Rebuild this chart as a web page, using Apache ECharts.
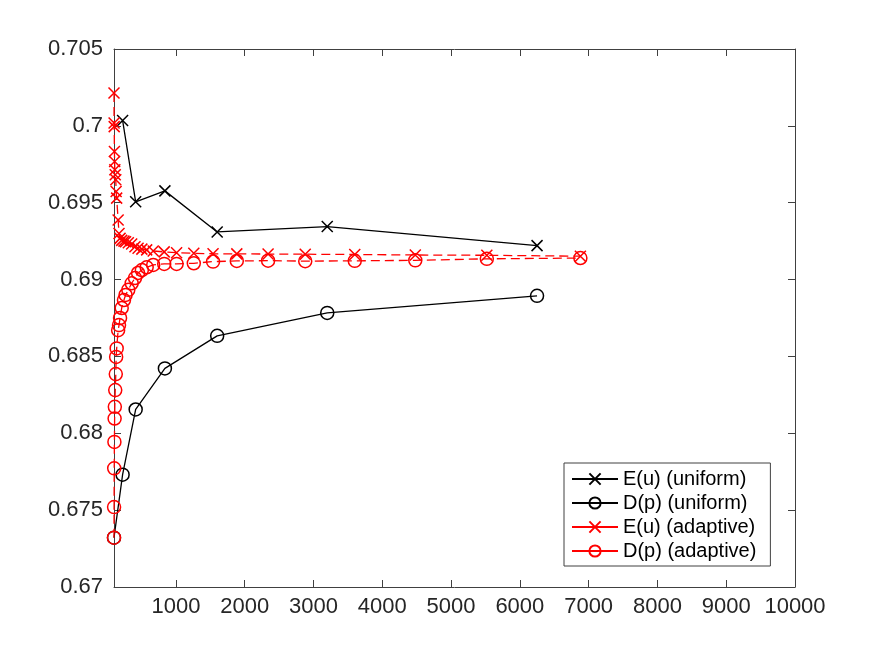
<!DOCTYPE html>
<html>
<head>
<meta charset="utf-8">
<title>E(u) / D(p)</title>
<script src="https://cdn.jsdelivr.net/npm/echarts@6.0.0/dist/echarts.min.js"></script>
<style>
  html, body { margin: 0; padding: 0; background: #fff; }
  #wrap { width: 878px; height: 659px; }
</style>
</head>
<body>
<div id="wrap"></div>
<script>
// uniform refinement
var uniformX = [100, 225, 415, 840, 1600, 3200, 6250];
var uniformEu = [null, 0.70035, 0.69506, 0.69577, 0.69310, 0.69345, 0.69221];
var uniformDp = [0.67321, 0.67731, 0.68155, 0.68422, 0.68634, 0.68783, 0.68894];

// adaptive refinement
var adaptiveX = [100, 101, 103, 106, 109, 112, 118, 126, 131, 139, 160, 173, 188, 212,
  245, 268, 308, 357, 405, 450, 505, 575, 670, 830, 1010, 1260, 1540, 1885,
  2340, 2880, 3600, 4480, 5520, 6880];
var adaptiveEu = [0.70214, 0.70018, 0.69995, 0.69833, 0.69768, 0.69714, 0.69682, 0.69649,
  0.69573, 0.69530, 0.69388, 0.69300, 0.69268, 0.69255, 0.69250, 0.69246, 0.69240,
  0.69232, 0.69214, 0.69204, 0.69198, 0.69193, 0.69186, 0.69180, 0.69175, 0.69171,
  0.69168, 0.69167, 0.69166, 0.69165, 0.69163, 0.69160, 0.69158, 0.69152];
var adaptiveDp = [0.67321, 0.67520, 0.67772, 0.67944, 0.68096, 0.68172, 0.68281, 0.68385,
  0.68497, 0.68552, 0.68671, 0.68704, 0.68750, 0.68815, 0.68867, 0.68900, 0.68933,
  0.68976, 0.69010, 0.69043, 0.69062, 0.69080, 0.69095, 0.69102, 0.69102, 0.69106,
  0.69117, 0.69121, 0.69123, 0.69120, 0.69122, 0.69125, 0.69135, 0.69140];

var xTicks = [1000, 2000, 3000, 4000, 5000, 6000, 7000, 8000, 9000, 10000];
var seriesNames = ['E(u) (uniform)', 'D(p) (uniform)', 'E(u) (adaptive)', 'D(p) (adaptive)'];

var crossSymbol = 'path://M0,0L10,10M10,0L0,10';
var axisGray = '#404040';
var textGray = '#262626';
var fontName = 'Liberation Sans, Arial, Helvetica, sans-serif';

function pairs(xs, ys) {
    var out = [];
    xs.forEach(function(x, i) {
        out.push([x, ys[i]]);
    });
    return out;
}

function makeSeries(name, xs, ys, color, symbol, dashed) {
    var isCross = symbol === 'cross';
    return {
        name: name,
        type: 'line',
        data: pairs(xs, ys),
        symbol: isCross ? crossSymbol : 'circle',
        symbolSize: isCross ? 11 : 13,
        showAllSymbol: true,
        connectNulls: false,
        lineStyle: { color: color, width: 1.3, type: dashed ? [9, 5] : 'solid' },
        itemStyle: {
            color: isCross ? color : 'rgba(0,0,0,0)',
            borderColor: color,
            borderWidth: 1.5
        },
        emphasis: { disabled: true },
        z: dashed ? 3 : 2
    };
}

var myChart = echarts.init(document.getElementById('wrap'), null, { renderer: 'canvas' });

var option = {
    animation: false,
    backgroundColor: '#fff',
    grid: { left: 114, right: 83, top: 49, bottom: 72, show: false },
    legend: {
        orient: 'vertical',
        left: 564,
        top: 463,
        backgroundColor: '#fff',
        borderColor: axisGray,
        borderWidth: 1,
        borderRadius: 0,
        padding: [6, 14, 5, 7],
        itemWidth: 46,
        itemHeight: 14,
        itemGap: 4,
        textStyle: { fontSize: 20, lineHeight: 20, color: '#000', fontFamily: fontName },
        data: seriesNames.map(function(n) {
            return { name: n, lineStyle: { type: 'solid' } };
        })
    },
    xAxis: [{
        type: 'value',
        min: 100,
        max: 10000,
        position: 'bottom',
        axisLine: { onZero: false, lineStyle: { color: axisGray, width: 1 } },
        axisTick: { inside: true, length: 7, customValues: xTicks, lineStyle: { color: axisGray } },
        axisLabel: {
            customValues: xTicks,
            color: textGray,
            fontSize: 22,
            margin: 9,
            fontFamily: fontName,
            formatter: function(v) { return String(v); }
        },
        splitLine: { show: false }
    }, {
        type: 'value',
        min: 100,
        max: 10000,
        position: 'top',
        axisLine: { onZero: false, lineStyle: { color: axisGray, width: 1 } },
        axisTick: { inside: true, length: 7, customValues: xTicks, lineStyle: { color: axisGray } },
        axisLabel: { show: false },
        splitLine: { show: false }
    }],
    yAxis: [{
        type: 'value',
        min: 0.67,
        max: 0.705,
        interval: 0.005,
        position: 'left',
        axisLine: { show: true, onZero: false, lineStyle: { color: axisGray, width: 1 } },
        axisTick: { show: true, inside: true, length: 7, lineStyle: { color: axisGray } },
        axisLabel: {
            color: textGray,
            fontSize: 22,
            margin: 11,
            fontFamily: fontName,
            formatter: function(v) { return String(+v.toFixed(3)); }
        },
        splitLine: { show: false }
    }, {
        type: 'value',
        min: 0.67,
        max: 0.705,
        interval: 0.005,
        position: 'right',
        axisLine: { show: true, onZero: false, lineStyle: { color: axisGray, width: 1 } },
        axisTick: { show: true, inside: true, length: 7, lineStyle: { color: axisGray } },
        axisLabel: { show: false },
        splitLine: { show: false }
    }],
    series: [
        makeSeries(seriesNames[0], uniformX, uniformEu, '#000', 'cross', false),
        makeSeries(seriesNames[1], uniformX, uniformDp, '#000', 'circle', false),
        makeSeries(seriesNames[2], adaptiveX, adaptiveEu, '#ff0000', 'cross', true),
        makeSeries(seriesNames[3], adaptiveX, adaptiveDp, '#ff0000', 'circle', true)
    ]
};

myChart.setOption(option);
</script>
</body>
</html>
